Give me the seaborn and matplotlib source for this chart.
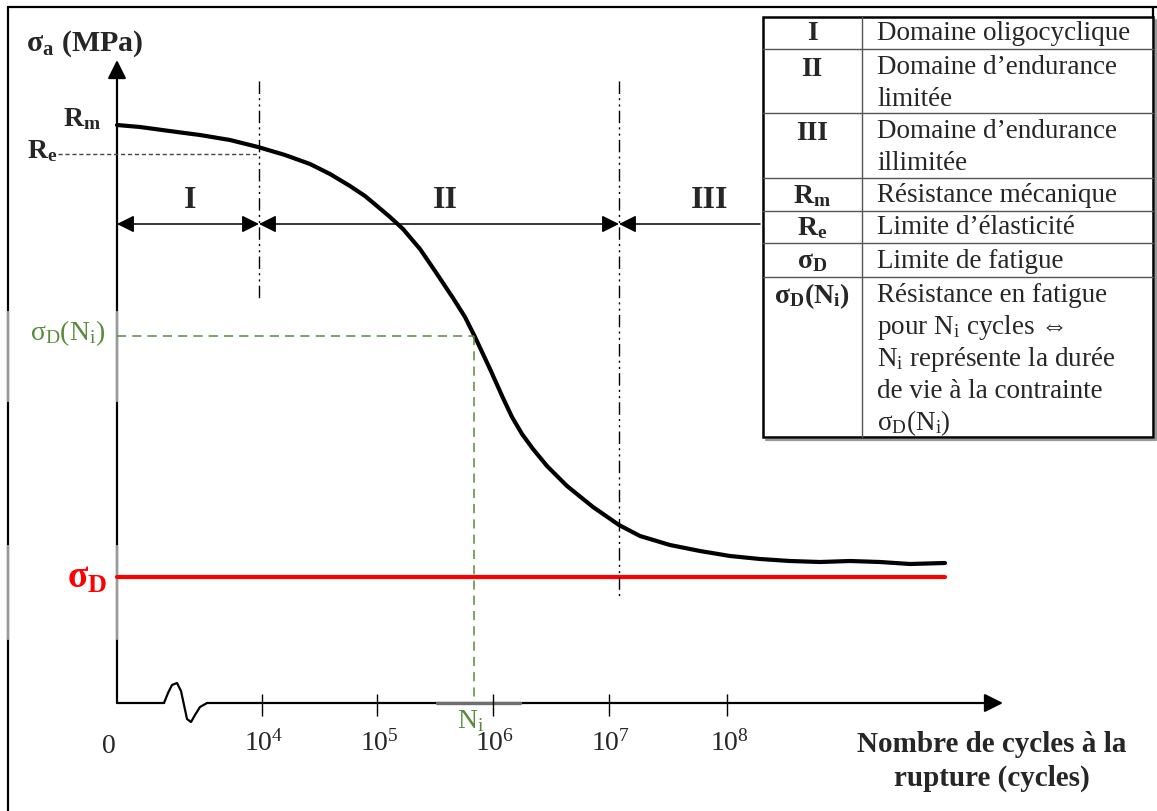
import numpy as np
import pandas as pd
import seaborn as sns
import matplotlib.pyplot as plt
from matplotlib.patches import Rectangle, FancyArrowPatch

# ---------------- data (schematic, pixel units) ----------------
curve_x = [117, 140, 177, 200, 230, 258, 285, 310, 330, 350, 365, 377, 390, 403, 420, 435,
           453, 465, 475, 490, 503, 512, 522, 533, 547, 567, 593, 619, 640, 670, 700, 730,
           760, 790, 820, 850, 880, 910, 945]
curve_y = [126, 128, 133, 136, 141, 148, 156, 165, 175, 187, 197, 207, 218, 230, 250, 272,
           299, 318, 338, 370, 399, 418, 435, 450, 467, 487, 508, 526, 537, 546, 552, 557,
           560, 562, 563, 562, 563, 565, 564]
sigma_d_x = [117, 945]
sigma_d_y = [578, 578]
tick_labels = ["10$^{4}$", "10$^{5}$", "10$^{6}$", "10$^{7}$", "10$^{8}$"]
tick_pos = [262, 377, 493, 609, 727]
domain_labels = ["I", "II", "III"]
domain_bounds = [117, 259, 619, 760]
table_keys = ["I", "II", "III", "R$_\\mathbf{m}$", "R$_\\mathbf{e}$", "σ$_\\mathbf{D}$",
              "σ$_\\mathbf{D}$(N$_\\mathbf{i}$)"]
table_vals = ["Domaine oligocyclique",
              "Domaine d\u2019endurance\nlimitée",
              "Domaine d\u2019endurance\nillimitée",
              "Résistance mécanique",
              "Limite d\u2019élasticité",
              "Limite de fatigue",
              "Résistance en fatigue\npour N$_\\mathrm{i}$ cycles \u21d4\nN$_\\mathrm{i}$ représente la durée\nde vie à la contrainte\nσ$_\\mathrm{D}$(N$_\\mathrm{i}$)"]

# ---------------- style ----------------
sns.set_theme(style="white")
plt.rcParams['font.family'] = ['Liberation Serif', 'DejaVu Serif', 'DejaVu Sans']
plt.rcParams['mathtext.fontset'] = 'custom'
plt.rcParams['mathtext.rm'] = 'Liberation Serif'
plt.rcParams['mathtext.it'] = 'Liberation Serif:italic'
plt.rcParams['mathtext.bf'] = 'Liberation Serif:bold'

GREEN = '#5a8a3c'
W, H = 1157, 812
fig = plt.figure(figsize=(W / 100, H / 100), dpi=100)
ax = fig.add_axes([0, 0, 1, 1])
ax.set_xlim(0, W)
ax.set_ylim(H, 0)
ax.axis('off')

# outer frame (top + left)
ax.plot([8, W], [8, 8], color='black', lw=1.6)
ax.plot([8, 8], [8, H], color='black', lw=1.6)

# y axis with arrow
ax.add_patch(FancyArrowPatch((117, 704), (117, 61), arrowstyle='-|>', mutation_scale=28,
                             shrinkA=0, shrinkB=0, color='black', lw=1.6))
# x axis with break
ax.plot([117, 164], [704, 704], color='black', lw=1.6)
br_x = [164, 168, 172, 177, 181, 184, 187, 191, 195, 200, 207]
br_y = [704, 694, 686, 684, 692, 706, 720, 723, 716, 708, 704]
ax.plot(br_x, br_y, color='black', lw=1.6)
ax.add_patch(FancyArrowPatch((207, 704), (1003, 704), arrowstyle='-|>', mutation_scale=28,
                             shrinkA=0, shrinkB=0, color='black', lw=1.6))
ax.plot([437, 520], [704, 704], color='#6e6e6e', lw=2.4)
# gray artefacts on vertical lines
for xx in (8, 117):
    ax.plot([xx, xx], [313, 402], color='#9a9a9a', lw=1.6)
    ax.plot([xx, xx], [547, 640], color='#9a9a9a', lw=1.6)

# ticks
ax.vlines(tick_pos, 695, 717, color='black', lw=1.0)
ax.text(109, 747, "0", ha='center', va='center', fontsize=20)
for xp, lab in zip(tick_pos, tick_labels):
    ax.text(xp + 2, 743, lab, ha='center', va='center', fontsize=20)

# curve and fatigue limit (seaborn)
df = pd.DataFrame({'N': curve_x, 'S': curve_y})
sns.lineplot(data=df, x='N', y='S', sort=False, color='black', lw=3.0, ax=ax,
             solid_joinstyle='round', solid_capstyle='round')
sns.lineplot(x=sigma_d_x, y=sigma_d_y, sort=False, color='#ff0000', lw=3.0, ax=ax)

# dash-dot vertical lines
for xv, y1 in ((259, 300), (619, 600)):
    ax.plot([xv, xv], [82, y1], color='black', lw=1.0, dashes=(9, 3, 1.5, 3, 1.5, 3))

# Re dashed line
ax.plot([58, 259], [155, 155], color='#444444', lw=1.0, dashes=(3, 2))

# green sigma_D(N_i)
ax.plot([117, 474], [337, 337], color=GREEN, lw=1.1, dashes=(6, 4))
ax.plot([474, 474], [337, 703], color=GREEN, lw=1.1, dashes=(6, 4))

# domain arrows
for i in range(3):
    a, b = domain_bounds[i], domain_bounds[i + 1]
    style = '<|-|>' if i < 2 else '<|-'
    ax.add_patch(FancyArrowPatch((a, 225), (b, 225), arrowstyle=style, mutation_scale=26,
                                 shrinkA=0, shrinkB=0, color='black', lw=1.1))
for lab, xc in zip(domain_labels, (190, 445, 710)):
    ax.text(xc, 201, lab, ha='center', va='center', fontsize=23, fontweight='bold')

# labels on the left
ax.text(26, 44, "σ$_\\mathbf{a}$ (MPa)", ha='left', va='center', fontsize=21.5, fontweight='bold')
ax.text(63, 119, "R$_\\mathbf{m}$", ha='left', va='center', fontsize=20, fontweight='bold')
ax.text(27, 151, "R$_\\mathbf{e}$", ha='left', va='center', fontsize=20, fontweight='bold')
ax.text(105, 333, "σ$_\\mathrm{D}$(N$_\\mathrm{i}$)", ha='right', va='center', fontsize=20, color=GREEN)
ax.text(107, 578, "σ$_\\mathbf{D}$", ha='right', va='center', fontsize=27, fontweight='bold', color='#ff0000')
ax.text(471, 721, "N$_\\mathrm{i}$", ha='center', va='center', fontsize=20, color=GREEN)

# x label
ax.text(992, 745, "Nombre de cycles à la", ha='center', va='center', fontsize=21, fontweight='bold')
ax.text(992, 778, "rupture (cycles)", ha='center', va='center', fontsize=21, fontweight='bold')

# ---------------- table ----------------
tx0, tx1, ty0, ty1, tcol = 763, 1153, 18, 438, 862
ax.add_patch(Rectangle((tx0, ty0), tx1 - tx0, ty1 - ty0, facecolor='white', edgecolor='none', zorder=4))
ax.plot([tx0 + 3, tx1 + 3, tx1 + 3], [ty1 + 3, ty1 + 3, ty0 + 3], color='#9a9a9a', lw=1.6, zorder=5)
ax.add_patch(Rectangle((tx0, ty0), tx1 - tx0, ty1 - ty0, facecolor='none', edgecolor='black', lw=1.8, zorder=6))
ax.plot([tx1, tx1], [8, ty0], color='black', lw=1.6, zorder=6)
row_edges = [18, 50, 114, 179, 212, 244, 278, 438]
for y in row_edges[1:-1]:
    ax.plot([tx0, tx1], [y, y], color='#555555', lw=1.0, zorder=6)
ax.plot([tcol, tcol], [ty0, ty1], color='#555555', lw=1.0, zorder=6)
key_y = [34, 69, 133, 196, 228, 262, 296]
line_h = 31.7
for k, v, r0, ky in zip(table_keys, table_vals, row_edges[:-1], key_y):
    ax.text(812, ky, k, ha='center', va='center', fontsize=20, fontweight='bold', zorder=7)
    lines = v.split("\n")
    for j, ln in enumerate(lines):
        ax.text(877, (ky if len(lines) == 1 else r0 + 18 + j * line_h), ln, ha='left',
                va='center', fontsize=19.5, zorder=7)

fig.savefig("out.png", dpi=100)
